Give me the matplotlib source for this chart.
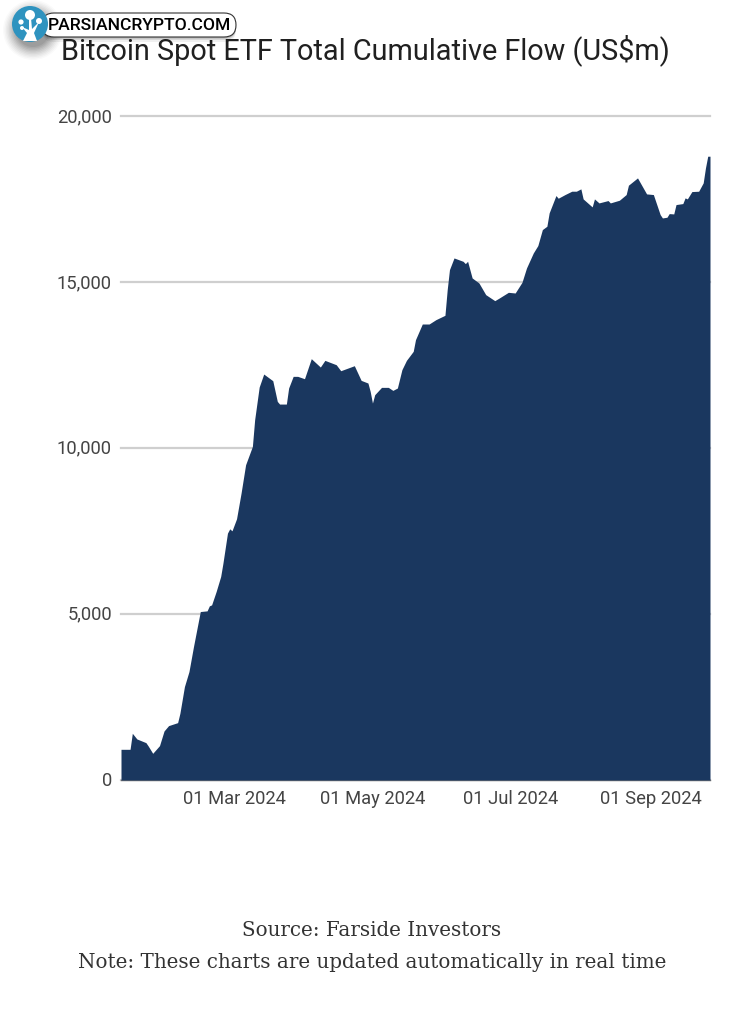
import numpy as np
import pandas as pd
import matplotlib
matplotlib.use('Agg')
import matplotlib.pyplot as plt
import matplotlib.dates as mdates
from matplotlib.patches import Circle, FancyBboxPatch, Polygon
from matplotlib.transforms import ScaledTranslation

# Data: days since the first trading day, cumulative flow
start_date = '2024-01-11'
days = [0, 4, 5, 7, 11, 12, 14, 17, 19, 21, 25, 26, 28, 30, 32, 35, 38, 39, 40, 42,
        44, 45, 47, 48, 49, 51, 53, 55, 58, 59, 61, 63, 67, 69, 70, 73, 74, 76, 78, 81,
        84, 88, 90, 95, 97, 103, 106, 109, 110, 111, 112, 115, 118, 120, 122, 124, 126, 129, 130, 133,
        136, 139, 143, 144, 145, 147, 151, 152, 153, 155, 158, 161, 165, 167, 171, 174, 177, 179, 182, 184,
        186, 188, 189, 192, 193, 196, 199, 201, 203, 204, 208, 209, 211, 215, 216, 220, 223, 224, 228, 232,
        235, 238, 239, 241, 242, 244, 245, 248, 249, 250, 252, 255, 257, 258, 259, 260]
flows = [925, 925, 1408, 1237, 1126, 1026, 804, 1036, 1478, 1639, 1729, 2011, 2815, 3268, 4022, 5078, 5098, 5249, 5279, 5681,
         6134, 6536, 7441, 7571, 7511, 7873, 8647, 9502, 10055, 10859, 11845, 12237, 12036, 11412, 11332, 11332, 11815, 12167, 12167, 12096,
         12700, 12448, 12649, 12518, 12337, 12488, 12046, 11966, 11714, 11362, 11614, 11835, 11835, 11744, 11815, 12368, 12649, 12921, 13273, 13745,
         13745, 13876, 14007, 14781, 15384, 15736, 15635, 15565, 15635, 15133, 14982, 14630, 14449, 14530, 14700, 14680, 15002, 15434, 15887, 16109,
         16591, 16692, 17094, 17617, 17536, 17647, 17748, 17748, 17818, 17516, 17275, 17516, 17395, 17466, 17395, 17476, 17647, 17929, 18149, 17667,
         17647, 17043, 16942, 16963, 17073, 17063, 17345, 17375, 17546, 17516, 17737, 17747, 17999, 18451, 18803, 18803]
y_ticks = [0, 5000, 10000, 15000, 20000]
x_ticks = ['2024-03-01', '2024-05-01', '2024-07-01', '2024-09-01']

title = 'Bitcoin Spot ETF Total Cumulative Flow (US$m)'
source_lines = ['Source: Farside Investors', 'Note: These charts are updated automatically in real time']

W, H = 742, 1024
dates = pd.Timestamp(start_date) + pd.to_timedelta(days, unit='D')

fig = plt.figure(figsize=(W / 100, H / 100), dpi=100, facecolor='white')
ax = fig.add_axes([121 / W, 1 - 780 / H, (710 - 121) / W, (780 - 116.5) / H])

ax.fill_between(dates, flows, 0, color='#1a375f', lw=0, zorder=3)
ax.set_xlim(dates[0], dates[-1])
ax.set_ylim(0, 20000)

ax.set_yticks(y_ticks)
ax.set_yticklabels([f'{v:,}' for v in y_ticks], fontfamily='Roboto', fontsize=13.2, color='#444444')
ax.set_xticks(pd.to_datetime(x_ticks))
ax.xaxis.set_major_formatter(mdates.DateFormatter('%d %b %Y'))
for lab in ax.get_xticklabels():
    lab.set_fontfamily('Roboto')
    lab.set_fontsize(13.2)
    lab.set_color('#444444')
ax.tick_params(axis='y', length=0, pad=6.5)
ax.tick_params(axis='x', length=0, pad=7.5)
ax.grid(axis='y', color='#cfcfcf', lw=1.6, zorder=1)
ax.set_axisbelow(True)
for line in ax.get_ygridlines():
    line.set_clip_on(False)
# y labels sit a little above their gridlines
up = ScaledTranslation(0, 1.5 / 100, fig.dpi_scale_trans)
for lab in ax.get_yticklabels():
    lab.set_transform(lab.get_transform() + up)
for side in ['top', 'right', 'left']:
    ax.spines[side].set_visible(False)
ax.spines['bottom'].set_color('#777777')
ax.spines['bottom'].set_linewidth(1)

# Overlay in pixel coordinates for title, footer and watermark
ov = fig.add_axes([0, 0, 1, 1], facecolor='none')
ov.set_xlim(0, W)
ov.set_ylim(H, 0)
ov.axis('off')

ov.text(365, 50, title, family='Roboto', fontsize=20.75, color='#202020', ha='center', va='center')
ov.text(372, 936, source_lines[0], family='DejaVu Serif', fontsize=14.35, color='#333333', ha='center', va='baseline')
ov.text(372, 968, source_lines[1], family='DejaVu Serif', fontsize=14.35, color='#333333', ha='center', va='baseline')

# Watermark: soft shadow, pill, round logo
for r, a in zip(np.linspace(30, 17, 10), np.linspace(0.02, 0.07, 10)):
    ov.add_patch(Circle((33, 30), r, color='black', alpha=a, lw=0, zorder=5))
for off, a in [(5, 0.06), (3, 0.1), (1.5, 0.15)]:
    ov.add_patch(FancyBboxPatch((42, 13 + off), 194, 24, boxstyle='round,pad=0,rounding_size=12',
                                fc='black', ec='none', alpha=a, zorder=5))
ov.add_patch(FancyBboxPatch((42, 13), 194, 24, boxstyle='round,pad=0,rounding_size=12',
                            fc='white', ec='#333333', lw=0.8, zorder=6))
ov.text(48, 25.5, 'PARSIANCRYPTO.COM', family='Roboto', fontsize=12.6, color='black', va='center', ha='left',
        fontweight='medium', zorder=7)
ov.add_patch(Circle((30, 24), 18, fc='#2f93bf', ec='none', zorder=8))
ov.add_patch(Polygon([(23, 41), (27, 33), (22, 27), (29, 30), (29, 18), (31, 18), (32, 29), (39, 22), (34, 33), (37, 41)],
                     fc='white', ec='none', zorder=9))
for cx, cy, r in [(30, 15, 5), (21, 22, 2.6), (39, 21, 3), (22, 28, 2)]:
    ov.add_patch(Circle((cx, cy), r, fc='white', ec='none', zorder=9))

fig.savefig('out.png', dpi=100)
